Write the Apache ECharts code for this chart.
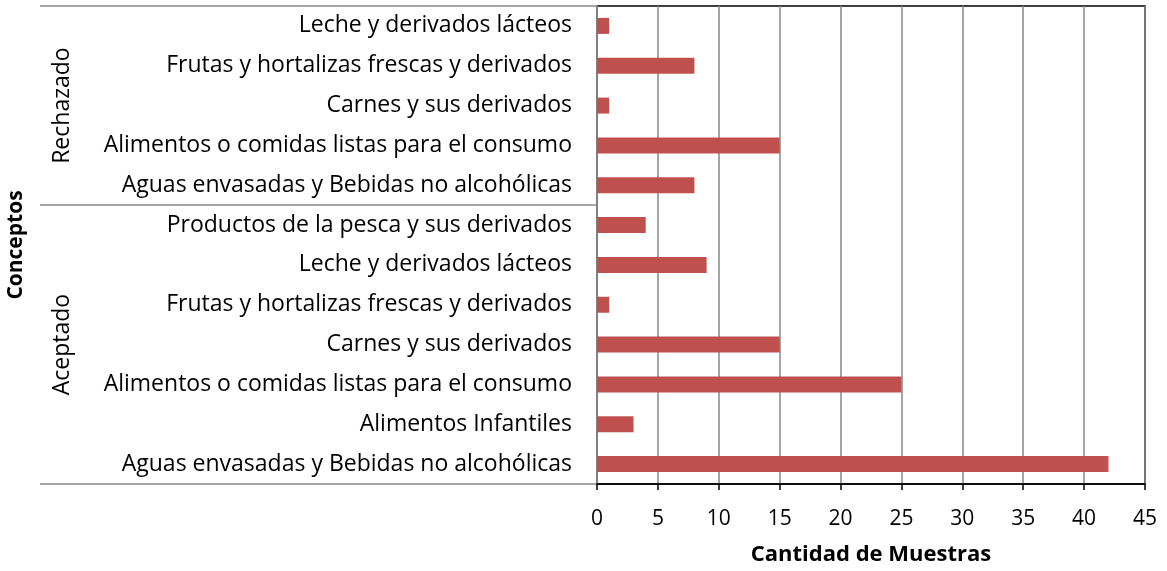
<!DOCTYPE html>
<html>
<head>
<meta charset="utf-8">
<script src="https://cdn.jsdelivr.net/npm/echarts@6/dist/echarts.min.js"></script>
<style>
  html, body { margin: 0; padding: 0; background: #fff; }
  #chart { width: 1167px; height: 571px; }
</style>
</head>
<body>
<div id="chart"></div>
<script>
// Categories listed bottom to top, grouped by result
const groups = ['Aceptado', 'Rechazado'];
const aceptadoCats = [
  'Aguas envasadas y Bebidas no alcohólicas',
  'Alimentos Infantiles',
  'Alimentos o comidas listas para el consumo',
  'Carnes y sus derivados',
  'Frutas y hortalizas frescas y derivados',
  'Leche y derivados lácteos',
  'Productos de la pesca y sus derivados'
];
const rechazadoCats = [
  'Aguas envasadas y Bebidas no alcohólicas',
  'Alimentos o comidas listas para el consumo',
  'Carnes y sus derivados',
  'Frutas y hortalizas frescas y derivados',
  'Leche y derivados lácteos'
];
const aceptadoValues = [42, 3, 25, 15, 1, 9, 4];
const rechazadoValues = [8, 15, 1, 8, 1];
const xTicks = [0, 5, 10, 15, 20, 25, 30, 35, 40, 45];

const categories = aceptadoCats.concat(rechazadoCats);
const values = aceptadoValues.concat(rechazadoValues);

const FONT = '"Open Sans"';
const chart = echarts.init(document.getElementById('chart'));

chart.setOption({
  animation: false,
  textStyle: { fontFamily: FONT },
  grid: {
    left: 597, right: 22, top: 6, bottom: 84,
    show: true, borderColor: '#000', borderWidth: 1.5, backgroundColor: 'transparent'
  },
  xAxis: {
    type: 'value',
    min: xTicks[0], max: xTicks[xTicks.length - 1], interval: 5,
    axisLine: { show: true, lineStyle: { color: '#000', width: 1.5 } },
    axisTick: { show: true, length: 6, lineStyle: { color: '#000', width: 1.5 } },
    axisLabel: { fontSize: 21, color: '#000', margin: 25, fontFamily: FONT },
    splitLine: { show: true, lineStyle: { color: '#878787', width: 1.5 } },
    name: 'Cantidad de Muestras',
    nameLocation: 'middle',
    nameGap: 60,
    nameTextStyle: { fontSize: 22, fontWeight: 'bold', color: '#000', fontFamily: FONT }
  },
  yAxis: {
    type: 'category',
    data: categories,
    axisLine: { show: true, lineStyle: { color: '#878787', width: 1.5 } },
    axisTick: { show: false },
    axisLabel: { fontSize: 23, color: '#000', margin: 25, fontFamily: FONT },
    splitLine: { show: false }
  },
  series: [{
    type: 'bar',
    data: values,
    barWidth: 16,
    itemStyle: { color: '#C0504D' }
  }]
});

// Group separators and labels placed from the category scale
function drawGroups() {
  const n = categories.length;
  const half = (chart.convertToPixel({ yAxisIndex: 0 }, 0) - chart.convertToPixel({ yAxisIndex: 0 }, 1)) / 2;
  const yAt = i => chart.convertToPixel({ yAxisIndex: 0 }, i) + half; // lower edge of band i
  const x0 = chart.convertToPixel({ xAxisIndex: 0 }, 0);
  const lineStyle = { stroke: '#878787', lineWidth: 1.5 };
  const bounds = [0, aceptadoCats.length, n];
  const els = bounds.map(b => ({
    type: 'line',
    shape: { x1: 40, y1: Math.round(yAt(b)) , x2: x0, y2: Math.round(yAt(b)) },
    style: lineStyle
  }));
  const spans = [[0, aceptadoCats.length], [aceptadoCats.length, n]];
  spans.forEach((s, gi) => {
    const yc = (yAt(s[0]) + yAt(s[1])) / 2;
    els.push({
      type: 'text', x: 62, y: yc, rotation: Math.PI / 2,
      style: { text: groups[gi], font: '23px ' + FONT, fill: '#000', align: 'center', verticalAlign: 'middle' }
    });
  });
  els.push({
    type: 'text', x: 16, y: (yAt(0) + yAt(n)) / 2, rotation: Math.PI / 2,
    style: { text: 'Conceptos', font: 'bold 21px ' + FONT, fill: '#000', align: 'center', verticalAlign: 'middle' }
  });
  chart.setOption({ graphic: els });
}
drawGroups();
</script>
</body>
</html>
